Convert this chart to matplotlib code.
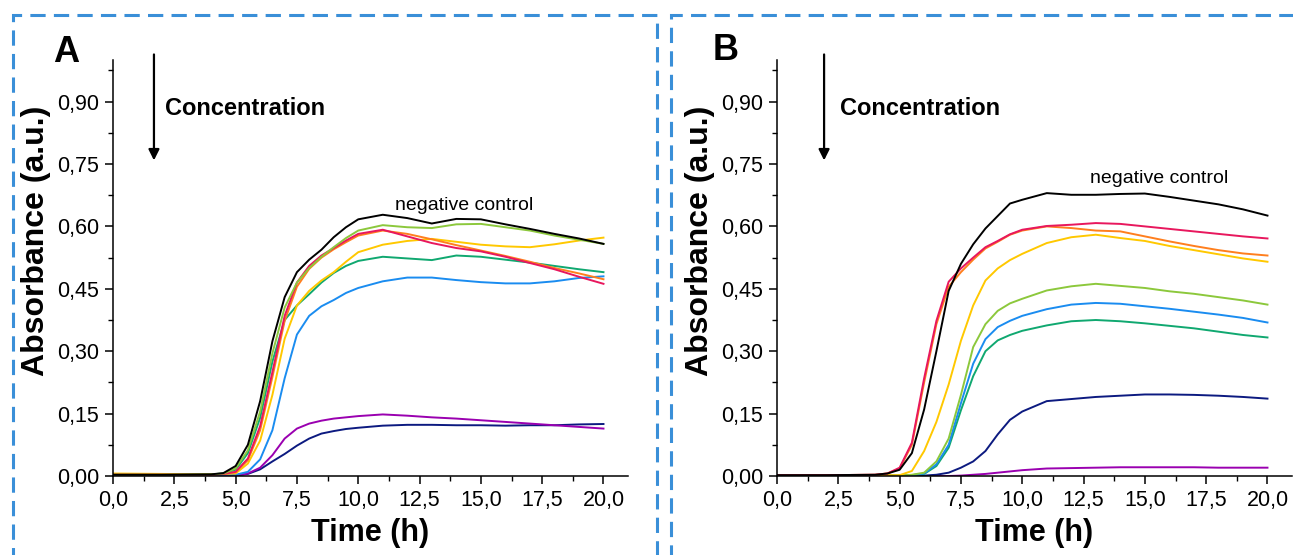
import matplotlib
matplotlib.use("Agg")
import matplotlib.pyplot as plt
from matplotlib.patches import Rectangle
from matplotlib.ticker import MultipleLocator

plt.rcParams['font.family'] = ['Liberation Sans', 'DejaVu Sans']

# time points (h), shared by all curves
time_h = [0, 2, 4, 4.5, 5, 5.5, 6, 6.5, 7, 7.5, 8, 8.5, 9, 9.5, 10,
          11, 12, 13, 14, 15, 16, 17, 18, 19, 20]

# panel A absorbance (a.u.)
a_black = [0.003, 0.003, 0.004, 0.007, 0.024, 0.075, 0.180, 0.324, 0.430, 0.490, 0.520, 0.544, 0.574,
           0.598, 0.617, 0.628, 0.620, 0.607, 0.618, 0.617, 0.605, 0.594, 0.582, 0.571, 0.558]
a_lime = [0.003, 0.003, 0.004, 0.006, 0.018, 0.062, 0.155, 0.295, 0.405, 0.465, 0.500, 0.527, 0.550,
          0.572, 0.590, 0.603, 0.598, 0.596, 0.605, 0.606, 0.598, 0.590, 0.578, 0.568, 0.558]
a_teal = [0.003, 0.003, 0.004, 0.006, 0.015, 0.055, 0.140, 0.275, 0.375, 0.410, 0.437, 0.465, 0.488,
          0.505, 0.517, 0.527, 0.523, 0.519, 0.530, 0.527, 0.520, 0.513, 0.505, 0.497, 0.490]
a_red = [0.003, 0.003, 0.003, 0.005, 0.010, 0.042, 0.120, 0.250, 0.385, 0.465, 0.505, 0.530, 0.548,
         0.566, 0.582, 0.592, 0.576, 0.560, 0.548, 0.540, 0.527, 0.512, 0.497, 0.479, 0.462]
a_orange = [0.003, 0.003, 0.003, 0.005, 0.009, 0.038, 0.110, 0.238, 0.373, 0.455, 0.498, 0.525, 0.545,
            0.562, 0.578, 0.590, 0.582, 0.569, 0.555, 0.542, 0.529, 0.515, 0.500, 0.487, 0.473]
a_yellow = [0.006, 0.005, 0.004, 0.005, 0.006, 0.030, 0.085, 0.195, 0.330, 0.410, 0.445, 0.470, 0.490,
            0.515, 0.538, 0.556, 0.565, 0.570, 0.563, 0.556, 0.552, 0.550, 0.557, 0.566, 0.573]
a_blue = [0.003, 0.003, 0.003, 0.003, 0.003, 0.010, 0.040, 0.110, 0.235, 0.340, 0.385, 0.408, 0.423,
          0.440, 0.452, 0.468, 0.477, 0.477, 0.471, 0.466, 0.463, 0.463, 0.468, 0.476, 0.480]
a_purple = [0.001, 0.001, 0.001, 0.001, 0.001, 0.006, 0.020, 0.050, 0.090, 0.114, 0.126, 0.133, 0.138,
            0.141, 0.144, 0.148, 0.145, 0.141, 0.138, 0.134, 0.130, 0.126, 0.122, 0.118, 0.114]
a_navy = [0.001, 0.001, 0.001, 0.001, 0.001, 0.005, 0.016, 0.035, 0.053, 0.073, 0.090, 0.102, 0.108,
          0.113, 0.116, 0.121, 0.123, 0.123, 0.122, 0.122, 0.121, 0.122, 0.122, 0.124, 0.125]

# panel B absorbance (a.u.)
b_black = [0.002, 0.002, 0.003, 0.006, 0.015, 0.055, 0.160, 0.300, 0.445, 0.510, 0.557, 0.595, 0.625,
           0.655, 0.664, 0.680, 0.676, 0.676, 0.678, 0.679, 0.671, 0.662, 0.653, 0.641, 0.626]
b_pink = [0.002, 0.002, 0.003, 0.006, 0.020, 0.080, 0.235, 0.373, 0.467, 0.499, 0.525, 0.550, 0.565,
          0.581, 0.592, 0.601, 0.604, 0.608, 0.606, 0.600, 0.594, 0.588, 0.582, 0.576, 0.571]
b_orange = [0.002, 0.002, 0.003, 0.006, 0.018, 0.075, 0.225, 0.365, 0.455, 0.490, 0.520, 0.547, 0.563,
            0.580, 0.590, 0.600, 0.596, 0.590, 0.588, 0.576, 0.564, 0.553, 0.543, 0.535, 0.530]
b_yellow = [0.002, 0.002, 0.002, 0.002, 0.002, 0.012, 0.060, 0.130, 0.220, 0.325, 0.410, 0.470, 0.499,
            0.519, 0.534, 0.560, 0.574, 0.580, 0.572, 0.565, 0.553, 0.543, 0.533, 0.523, 0.515]
b_lime = [0.001, 0.001, 0.001, 0.001, 0.001, 0.003, 0.008, 0.035, 0.090, 0.195, 0.310, 0.365, 0.397,
          0.415, 0.426, 0.446, 0.456, 0.462, 0.457, 0.452, 0.444, 0.438, 0.430, 0.422, 0.412]
b_blue = [0.001, 0.001, 0.001, 0.001, 0.001, 0.002, 0.006, 0.028, 0.075, 0.175, 0.270, 0.329, 0.358,
          0.373, 0.385, 0.401, 0.412, 0.416, 0.414, 0.408, 0.402, 0.395, 0.388, 0.380, 0.369]
b_teal = [0.001, 0.001, 0.001, 0.001, 0.001, 0.002, 0.005, 0.024, 0.068, 0.158, 0.240, 0.300, 0.326,
          0.339, 0.349, 0.362, 0.372, 0.375, 0.372, 0.367, 0.361, 0.355, 0.347, 0.339, 0.333]
b_navy = [0.0, 0.0, 0.0, 0.0, 0.0, 0.001, 0.001, 0.003, 0.008, 0.020, 0.035, 0.060, 0.100,
          0.135, 0.155, 0.180, 0.185, 0.190, 0.193, 0.196, 0.196, 0.195, 0.193, 0.190, 0.186]
b_purple = [0.0, 0.0, 0.0, 0.0, 0.0, 0.0, 0.0, 0.0, 0.0, 0.001, 0.003, 0.005, 0.008,
            0.011, 0.014, 0.018, 0.019, 0.020, 0.021, 0.021, 0.021, 0.021, 0.020, 0.020, 0.020]

x_ticks = [0, 2.5, 5, 7.5, 10, 12.5, 15, 17.5, 20]
x_labels = ['0,0', '2,5', '5,0', '7,5', '10,0', '12,5', '15,0', '17,5', '20,0']
y_ticks = [0, 0.15, 0.30, 0.45, 0.60, 0.75, 0.90]
y_labels = ['0,00', '0,15', '0,30', '0,45', '0,60', '0,75', '0,90']

colors = {'black': '#000000', 'lime': '#8cc83c', 'teal': '#10a870', 'red': '#e8175d',
          'pink': '#e8175d', 'orange': '#ff7f1e', 'yellow': '#ffc800', 'blue': '#1a8cf0',
          'purple': '#9a00b0', 'navy': '#0c1a80'}

panel_a = [('navy', a_navy), ('purple', a_purple), ('blue', a_blue), ('teal', a_teal),
           ('yellow', a_yellow), ('orange', a_orange), ('red', a_red), ('lime', a_lime),
           ('black', a_black)]
panel_b = [('purple', b_purple), ('navy', b_navy), ('teal', b_teal), ('blue', b_blue),
           ('lime', b_lime), ('yellow', b_yellow), ('orange', b_orange), ('pink', b_pink),
           ('black', b_black)]

W, H = 1293, 555
fig = plt.figure(figsize=(W / 100, H / 100), dpi=100)

# dashed panel frames
for x0, x1 in [(13, 657), (671, 1320)]:
    fig.add_artist(Rectangle((x0 / W, -20 / H), (x1 - x0) / W, (H - 15 + 20) / H,
                             transform=fig.transFigure, fill=False, edgecolor='#3a8fd8',
                             linewidth=2.2, linestyle=(0, (5, 2.7)), clip_on=False))


def draw_panel(ax, curves, nc_pos, arrow_x, text_x):
    for name, vals in curves:
        ax.plot(time_h, vals, color=colors[name], lw=1.4)
    ax.set_xlim(0, 21)
    ax.set_ylim(0, 1.0)
    ax.spines['top'].set_visible(False)
    ax.spines['right'].set_visible(False)
    for s in ['left', 'bottom']:
        ax.spines[s].set_linewidth(1.1)
    ax.set_xticks(x_ticks)
    ax.set_xticklabels(x_labels)
    ax.set_yticks(y_ticks)
    ax.set_yticklabels(y_labels)
    ax.set_xticks([1.25, 3.75, 6.25, 8.75, 11.25, 13.75, 16.25, 18.75], minor=True)
    ax.yaxis.set_minor_locator(MultipleLocator(0.075))
    ax.tick_params(which='major', direction='out', length=6, width=1.1, labelsize=15.5, pad=4)
    ax.tick_params(which='minor', direction='out', length=3.5, width=1.0)
    ax.set_xlabel('Time (h)', fontsize=22, fontweight='bold')
    ax.set_ylabel('Absorbance (a.u.)', fontsize=23, fontweight='bold')
    ax.xaxis.set_label_coords(0.5, -0.1)
    ax.yaxis.set_label_coords(-0.12, 0.565)
    ax.text(nc_pos[0], nc_pos[1], 'negative control', fontsize=14, ha='center', va='center')
    ax.annotate('', xy=(arrow_x, 0.752), xytext=(arrow_x, 1.02),
                arrowprops=dict(arrowstyle='-|>', color='k', lw=1.6, mutation_scale=16),
                annotation_clip=False)
    ax.text(text_x, 0.884, 'Concentration', fontsize=17, fontweight='bold', va='center')


ax_a = fig.add_axes([113 / W, 1 - 476 / H, 515 / W, 416 / H])
draw_panel(ax_a, panel_a, (14.3, 0.651), 1.67, 2.12)
ax_b = fig.add_axes([777 / W, 1 - 476 / H, 515 / W, 416 / H])
draw_panel(ax_b, panel_b, (15.6, 0.714), 1.92, 2.58)

fig.text(53 / W, 1 - 62 / H, 'A', fontsize=26, fontweight='bold', va='baseline')
fig.text(713 / W, 1 - 60 / H, 'B', fontsize=26, fontweight='bold', va='baseline')

fig.savefig('out.png', dpi=100)
